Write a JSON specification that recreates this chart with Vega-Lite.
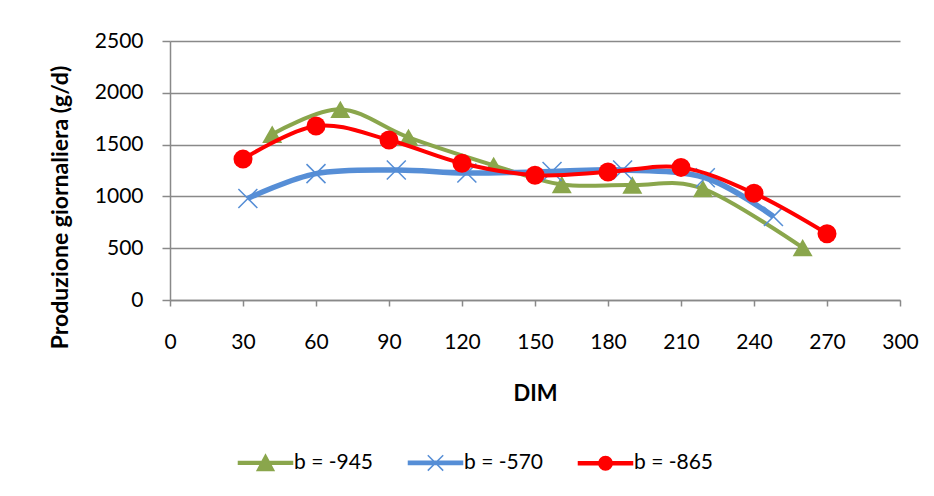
{
  "$schema": "https://vega.github.io/schema/vega-lite/v6.json",
  "width": 730,
  "height": 259,
  "autosize": {"type": "none"},
  "padding": {"left": 170, "top": 41, "right": 34, "bottom": 196},
  "background": "white",
  "config": {
    "view": {"stroke": null},
    "font": "Lato",
    "axis": {
      "domainColor": "#898989",
      "domainWidth": 1.5,
      "tickColor": "#898989",
      "tickWidth": 1.5,
      "gridColor": "#898989",
      "gridWidth": 1.5,
      "labelFont": "Lato",
      "labelFontSize": 21,
      "labelColor": "#000000",
      "labelFlush": false,
      "labelOverlap": false,
      "titleFont": "Lato",
      "titleFontSize": 22,
      "titleFontWeight": "bold",
      "titleColor": "#000000"
    },
    "legend": {
      "orient": "none",
      "legendX": 70,
      "legendY": 411,
      "direction": "horizontal",
      "labelFont": "Lato",
      "labelFontSize": 21,
      "labelColor": "#000000",
      "symbolSize": 196,
      "symbolStrokeWidth": 1.5,
      "symbolOpacity": 1,
      "symbolOffset": 15,
      "labelOffset": 18,
      "columnPadding": 31
    }
  },
  "data": {
    "values": [
      {"serie": "b = -945", "DIM": 42, "g": 1600},
      {"serie": "b = -945", "DIM": 70, "g": 1840},
      {"serie": "b = -945", "DIM": 98, "g": 1570},
      {"serie": "b = -945", "DIM": 133, "g": 1300},
      {"serie": "b = -945", "DIM": 161, "g": 1115},
      {"serie": "b = -945", "DIM": 190, "g": 1110},
      {"serie": "b = -945", "DIM": 219, "g": 1075},
      {"serie": "b = -945", "DIM": 260, "g": 505},
      {"serie": "b = -570", "DIM": 32, "g": 980},
      {"serie": "b = -570", "DIM": 60, "g": 1220},
      {"serie": "b = -570", "DIM": 93, "g": 1255},
      {"serie": "b = -570", "DIM": 122, "g": 1225},
      {"serie": "b = -570", "DIM": 157, "g": 1240},
      {"serie": "b = -570", "DIM": 186, "g": 1255},
      {"serie": "b = -570", "DIM": 220, "g": 1180},
      {"serie": "b = -570", "DIM": 248, "g": 805},
      {"serie": "b = -865", "DIM": 30, "g": 1360},
      {"serie": "b = -865", "DIM": 60, "g": 1680},
      {"serie": "b = -865", "DIM": 90, "g": 1545},
      {"serie": "b = -865", "DIM": 120, "g": 1320},
      {"serie": "b = -865", "DIM": 150, "g": 1205},
      {"serie": "b = -865", "DIM": 180, "g": 1235},
      {"serie": "b = -865", "DIM": 210, "g": 1280},
      {"serie": "b = -865", "DIM": 240, "g": 1030},
      {"serie": "b = -865", "DIM": 270, "g": 640}
    ]
  },
  "encoding": {
    "x": {
      "field": "DIM",
      "type": "quantitative",
      "scale": {"domain": [0, 300], "nice": false, "zero": false},
      "axis": {
        "values": [0, 30, 60, 90, 120, 150, 180, 210, 240, 270, 300],
        "format": "d",
        "grid": false,
        "tickSize": 6,
        "labelPadding": 25,
        "title": "DIM",
        "titleY": 93,
        "titleBaseline": "middle"
      }
    },
    "y": {
      "field": "g",
      "type": "quantitative",
      "scale": {"domain": [0, 2500], "nice": false},
      "axis": {
        "values": [0, 500, 1000, 1500, 2000, 2500],
        "format": "d",
        "grid": true,
        "tickSize": 8,
        "labelPadding": 19,
        "title": "Produzione giornaliera (g/d)",
        "titleFontSize": 23,
        "titleX": -110,
        "titleY": 166,
        "titleAlign": "center",
        "titleBaseline": "middle"
      }
    }
  },
  "layer": [
    {
      "mark": {"type": "point", "filled": true, "opacity": 0, "strokeWidth": 1.5},
      "encoding": {
        "fill": {
          "field": "serie",
          "type": "nominal",
          "scale": {"domain": ["b = -945", "b = -570", "b = -865"], "range": ["#8aa64c", "#568ed6", "#ff0000"]},
          "legend": {"title": null}
        },
        "stroke": {
          "field": "serie",
          "type": "nominal",
          "scale": {"domain": ["b = -945", "b = -570", "b = -865"], "range": ["#8aa64c", "#568ed6", "#ff0000"]},
          "legend": {"title": null}
        },
        "shape": {
          "field": "serie",
          "type": "nominal",
          "scale": {
            "domain": ["b = -945", "b = -570", "b = -865"],
            "range": [
              "M-3.86,-0.21L3.86,-0.21L3.86,0.21L-3.86,0.21ZM-1.2,1.1L0,-1.15L1.2,1.1Z",
              "M-3.86,-0.23L3.86,-0.23L3.86,0.23L-3.86,0.23ZM-1.1,-1.1L1.1,1.1M-1.1,1.1L1.1,-1.1",
              "M-3.86,-0.21L3.86,-0.21L3.86,0.21L-3.86,0.21ZM0.96,0C0.96,0.53 0.53,0.96 0,0.96C-0.53,0.96 -0.96,0.53 -0.96,0C-0.96,-0.53 -0.53,-0.96 0,-0.96C0.53,-0.96 0.96,-0.53 0.96,0Z"
            ]
          },
          "legend": {"title": null}
        }
      }
    },
    {
      "transform": [{"filter": "datum.serie === 'b = -945'"}],
      "mark": {"type": "line", "interpolate": "cardinal", "color": "#8aa64c", "strokeWidth": 4}
    },
    {
      "transform": [{"filter": "datum.serie === 'b = -945'"}],
      "mark": {"type": "point", "shape": "triangle-up", "filled": true, "size": 400, "opacity": 1, "color": "#8aa64c"}
    },
    {
      "transform": [{"filter": "datum.serie === 'b = -570'"}],
      "mark": {"type": "line", "interpolate": "cardinal", "color": "#568ed6", "strokeWidth": 5.5}
    },
    {
      "transform": [{"filter": "datum.serie === 'b = -570'"}],
      "mark": {"type": "point", "shape": "M-1,-1L1,1M-1,1L1,-1", "filled": false, "size": 360, "strokeWidth": 1.5, "opacity": 1, "color": "#568ed6"}
    },
    {
      "transform": [{"filter": "datum.serie === 'b = -865'"}],
      "mark": {"type": "line", "interpolate": "cardinal", "color": "#ff0000", "strokeWidth": 4}
    },
    {
      "transform": [{"filter": "datum.serie === 'b = -865'"}],
      "mark": {"type": "point", "shape": "circle", "filled": true, "size": 361, "opacity": 1, "color": "#ff0000"}
    }
  ]
}
